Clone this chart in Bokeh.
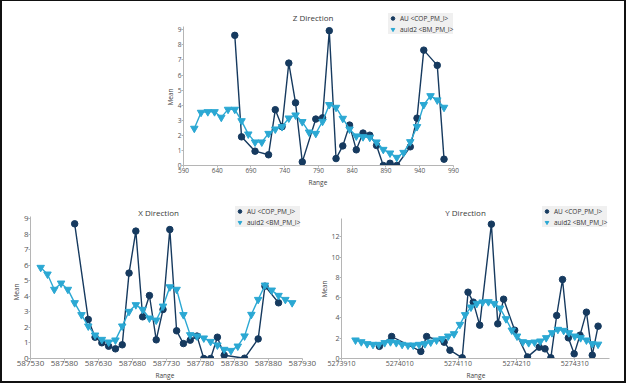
from bokeh.plotting import figure
from bokeh.models import Range1d, FixedTicker, Legend, LegendItem, Spacer, Title, Label
from bokeh.layouts import row, column
from bokeh.embed import file_html
from bokeh.resources import INLINE

# ---------------- data ----------------
z_teal_x = [606, 616, 626, 636, 646, 656, 666, 676, 686, 696, 706, 716, 726, 736, 746, 756, 766, 776, 786,
            796, 806, 816, 826, 836, 846, 856, 866, 876, 886, 896, 906, 916, 926, 936, 946, 956, 966, 976]
z_teal_y = [2.46, 3.52, 3.56, 3.56, 3.19, 3.72, 3.72, 2.96, 2.08, 1.55, 1.55, 2.12, 2.41, 2.57, 3.14, 3.34,
            2.90, 2.21, 2.12, 2.92, 4.03, 3.85, 3.12, 2.41, 1.95, 1.90, 1.86, 1.55, 1.06, 0.82, 0.53, 0.86,
            1.57, 2.57, 4.03, 4.62, 4.34, 3.85]
z_au_x = [666, 676, 696, 716, 726, 736, 746, 756, 766, 786, 796, 806, 816, 826, 836, 846, 856, 866, 876,
          886, 896, 906, 926, 936, 946, 966, 976]
z_au_y = [8.63, 1.90, 0.95, 0.71, 3.70, 2.57, 6.79, 4.16, 0.24, 3.08, 3.16, 8.94, 0.46, 1.30, 2.68, 1.04,
          2.15, 2.01, 1.33, 0.0, 0.15, 0.0, 1.24, 3.14, 7.65, 6.64, 0.42]

x_teal_x = [587545, 587555, 587565, 587575, 587585, 587595, 587605, 587615, 587625, 587635, 587645,
            587655, 587665, 587675, 587685, 587695, 587705, 587715, 587725, 587735, 587745, 587755,
            587765, 587775, 587785, 587795, 587805, 587815, 587825, 587835, 587845, 587855, 587865,
            587875, 587885, 587895, 587905, 587915]
x_teal_y = [5.85, 5.42, 4.44, 4.84, 4.44, 3.58, 2.81, 2.08, 1.50, 1.22, 1.05, 1.18, 2.08, 3.02, 3.45, 3.15,
            2.59, 2.46, 3.36, 4.60, 4.44, 2.81, 1.52, 1.44, 1.31, 1.09, 0.86, 0.58, 0.51, 0.79, 1.44, 2.83,
            3.79, 4.71, 4.39, 4.05, 3.79, 3.58]
x_au_x = [587595, 587615, 587625, 587635, 587645, 587655, 587665, 587675, 587685, 587695, 587705, 587715,
          587725, 587735, 587745, 587755, 587765, 587775, 587785, 587795, 587805, 587815, 587845, 587865,
          587875, 587895]
x_au_y = [8.66, 2.51, 1.37, 1.01, 0.79, 0.62, 0.88, 5.49, 8.19, 2.68, 4.05, 1.20, 3.15, 8.29, 1.78, 0.96,
          1.18, 1.44, 0.0, 0.0, 1.37, 0.21, 0.02, 1.26, 4.65, 3.58]

y_teal_x = [5273934, 5273944, 5273954, 5273964, 5273974, 5273984, 5273994, 5274004, 5274014, 5274024,
            5274033, 5274043, 5274053, 5274063, 5274073, 5274083, 5274093, 5274103, 5274113, 5274122,
            5274132, 5274142, 5274152, 5274162, 5274172, 5274182, 5274192, 5274202, 5274211, 5274221,
            5274231, 5274241, 5274251, 5274261, 5274271, 5274281, 5274291, 5274300, 5274310, 5274320,
            5274330, 5274340, 5274350]
y_teal_y = [1.81, 1.64, 1.45, 1.38, 1.38, 1.55, 1.64, 1.55, 1.38, 1.31, 1.31, 1.38, 1.45, 1.61, 1.81, 1.94,
            2.20, 2.43, 3.35, 4.31, 5.06, 5.42, 5.56, 5.59, 5.42, 4.96, 3.91, 2.79, 2.20, 1.64, 1.55, 1.61,
            1.71, 2.04, 2.53, 2.86, 2.76, 2.53, 2.20, 2.04, 1.81, 1.45, 1.40]
y_au_x = [5273975, 5273996, 5274046, 5274056, 5274086, 5274096, 5274117, 5274127, 5274136, 5274147,
          5274167, 5274178, 5274188, 5274207, 5274229, 5274249, 5274259, 5274269, 5274279, 5274289,
          5274299, 5274309, 5274319, 5274330, 5274340, 5274350]
y_au_y = [1.20, 2.17, 0.70, 2.17, 1.61, 0.82, 0.07, 6.54, 5.56, 3.29, 13.25, 3.42, 5.85, 2.79, 0.16, 1.12,
          0.95, 0.07, 4.24, 7.79, 2.04, 0.46, 2.30, 4.57, 0.33, 3.19]

z_xticks = [590, 640, 690, 740, 790, 840, 890, 940, 990]
x_xticks = [587530, 587580, 587630, 587680, 587730, 587780, 587830, 587880, 587930]
y_xticks = [5273910, 5274010, 5274110, 5274210, 5274310]
nine_ticks = [0, 1, 2, 3, 4, 5, 6, 7, 8, 9]
y_yticks = [0, 2, 4, 6, 8, 10, 12]

series_names = ["AU <COP_PM_I>", "auid2 <BM_PM_I>"]

AU_COLOR = "#163a5f"
TEAL = "#2ba8d3"
FONT = "Open Sans"
EDGE = "#111111"


def make(spec):
    p = figure(width=spec["w"], height=spec["h"], title=None,
               x_range=Range1d(*spec["xr"]), y_range=Range1d(*spec["yr"]),
               output_backend="svg", toolbar_location=None,
               min_border_left=spec["bl"], min_border_right=spec["br"],
               min_border_top=0, min_border_bottom=spec["bb"])
    p.outline_line_color = None
    p.xgrid.visible = False
    p.ygrid.visible = False

    for axis, ticks, bounds in ((p.xaxis[0], spec["xticks"], spec["xbounds"]),
                                (p.yaxis[0], spec["yticks"], spec["ybounds"])):
        axis.ticker = FixedTicker(ticks=ticks)
        axis.bounds = bounds
        axis.axis_label_standoff = 0
        axis.major_label_text_font = FONT
        axis.major_label_text_font_size = spec["tick_fs"]
        axis.major_label_text_color = "#555555"
        axis.major_label_standoff = 0
        axis.axis_line_color = "#b5b5b5"
        axis.major_tick_line_color = "#b5b5b5"
        axis.major_tick_out = 2
        axis.major_tick_in = 0
        axis.minor_tick_line_color = None
    p.xaxis[0].formatter.use_scientific = False

    # axis titles
    xt = Title(text="Range", align="left", offset=spec["range_off"], standoff=0,
               text_font=FONT, text_font_size="6.5px", text_font_style="normal", text_color="#444444")
    p.add_layout(xt, "below")
    yt = Title(text="Mean", align="left", offset=spec["mean_off"], standoff=0,
               text_font=FONT, text_font_size="6.5px", text_font_style="normal", text_color="#444444")
    p.add_layout(yt, "left")

    # chart title inside the (extended) frame
    p.add_layout(Label(x=spec["title_xy"][0], y=spec["title_xy"][1], text=spec["title"],
                       text_align="center", text_baseline="middle", text_font=FONT,
                       text_font_size="8px", text_color="#3a3a3a"))

    ax, ay, tx, ty = spec["data"]
    p.line(ax, ay, line_color=AU_COLOR, line_width=1.4)
    au = p.scatter(ax, ay, marker="circle", size=6.5, fill_color=AU_COLOR, line_color=AU_COLOR)
    p.line(tx, ty, line_color=TEAL, line_width=1.4)
    te = p.scatter(tx, ty, marker="inverted_triangle", size=7.5, fill_color=TEAL, line_color=TEAL)

    legend = Legend(items=[LegendItem(label=series_names[0], renderers=[au]),
                           LegendItem(label=series_names[1], renderers=[te])],
                    location=spec["legend_xy"])
    legend.background_fill_color = "#f0f0f0"
    legend.background_fill_alpha = 1.0
    legend.border_line_color = None
    legend.label_text_font = FONT
    legend.label_text_font_size = "6.5px"
    legend.label_text_color = "#333333"
    legend.label_height = 10
    legend.glyph_height = 10
    legend.glyph_width = 9
    legend.label_standoff = 3
    legend.padding = 4
    legend.spacing = 1
    legend.margin = 0
    p.add_layout(legend)
    return p


pz = make(dict(title="Z Direction", w=330, h=189, bl=43, br=4, bb=25,
               xr=(590, 1009.3), yr=(0, 10.875), xbounds=(590, 990), ybounds=(0, 9.22),
               xticks=z_xticks, yticks=nine_ticks, tick_fs="6.5px",
               range_off=125, mean_off=60, title_xy=(782, 9.79), legend_xy=(205, 131),
               data=(z_au_x, z_au_y, z_teal_x, z_teal_y)))
px = make(dict(title="X Direction", w=315, h=191, bl=28, br=7, bb=23,
               xr=(587530, 587942), yr=(0, 10.8), xbounds=(587530, 587930), ybounds=(0, 9.11),
               xticks=x_xticks, yticks=nine_ticks, tick_fs="8px",
               range_off=125, mean_off=58, title_xy=(587718.5, 9.40), legend_xy=(205, 131),
               data=(x_au_x, x_au_y, x_teal_x, x_teal_y)))
py = make(dict(title="Y Direction", w=307, h=191, bl=24, br=6, bb=23,
               xr=(5273910, 5274385), yr=(0, 16.57), xbounds=(5273910, 5274370), ybounds=(0, 13.8),
               xticks=y_xticks, yticks=y_yticks, tick_fs="7px",
               range_off=125, mean_off=61, title_xy=(5274122.7, 14.43), legend_xy=(201, 131),
               data=(y_au_x, y_au_y, y_teal_x, y_teal_y)))


def pad(w, h, color):
    return Spacer(width=w, height=h, styles={"background-color": color})


inner = column(row(pad(138, 189, "white"), pz, pad(154, 189, "white")), row(px, py))
layout = column(pad(626, 1, EDGE),
                row(pad(2, 380, EDGE), inner, pad(2, 380, EDGE)),
                pad(626, 2, EDGE))

open("out.html", "w").write(file_html(layout, INLINE))
